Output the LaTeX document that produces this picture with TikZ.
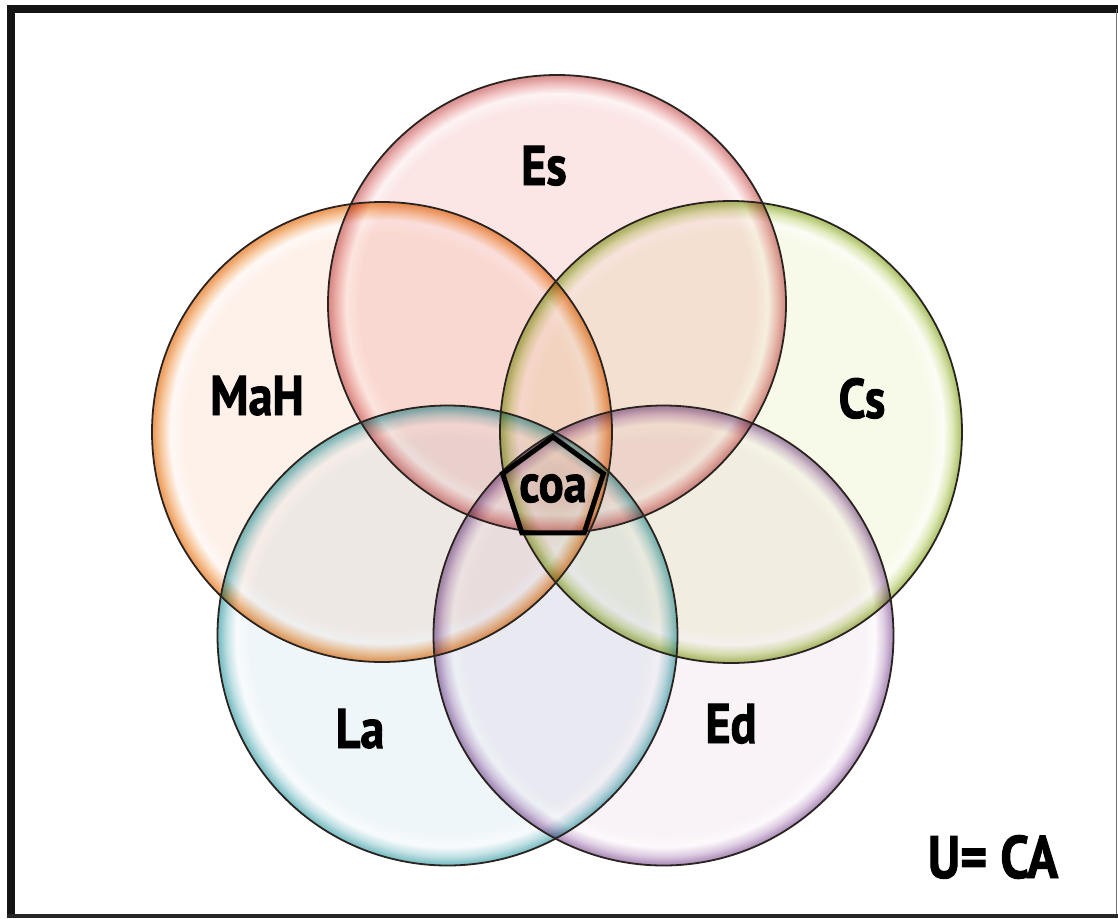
\documentclass[tikz,border=0pt]{standalone}
\usepackage{fontspec}
\newfontfamily\labelfont{PT Sans}[FakeStretch=0.86, FakeBold=1.6]
\usetikzlibrary{shapes.geometric}

% bubble colours: pale inside, tinted band, saturated rim
\definecolor{EsIn}{HTML}{FBE5E5}\definecolor{EsMid}{HTML}{F1C0C0}\definecolor{EsRim}{HTML}{DA9494}
\definecolor{MaHIn}{HTML}{FEF1EA}\definecolor{MaHMid}{HTML}{F8CBA4}\definecolor{MaHRim}{HTML}{EDA062}
\definecolor{CsIn}{HTML}{F7FAE9}\definecolor{CsMid}{HTML}{DDE8B6}\definecolor{CsRim}{HTML}{B2C672}
\definecolor{LaIn}{HTML}{EFF6F9}\definecolor{LaMid}{HTML}{C2E1E5}\definecolor{LaRim}{HTML}{80C1C7}
\definecolor{EdIn}{HTML}{F9F2F7}\definecolor{EdMid}{HTML}{DDCAE2}\definecolor{EdRim}{HTML}{B094BD}
\definecolor{rimline}{HTML}{2A231F}

\newcommand\bubbleshading[1]{%
  \pgfdeclareradialshading{#1Bubble}{\pgfpoint{0bp}{0bp}}{%
    color(0bp)=(#1In); color(21.6bp)=(#1In); color(23.0bp)=(#1In!45!white);
    color(24.0bp)=(#1Mid); color(24.8bp)=(#1Rim); color(25bp)=(#1Rim); color(50bp)=(#1Rim)}}
\bubbleshading{Es}\bubbleshading{MaH}\bubbleshading{Cs}\bubbleshading{La}\bubbleshading{Ed}

\tikzset{
  rimstroke/.style={draw=rimline, line width=1.8pt},
  lbl/.style={font=\labelfont\bfseries\fontsize{56}{60}\selectfont, inner sep=0pt, anchor=base, text=black},
}

\begin{document}
\begin{tikzpicture}[x=1pt, y=-1pt]
  \useasboundingbox (0,0) rectangle (1118,918);
  \fill[white] (0,0) rectangle (1118,918);

  % outer frame: heavy top and left, light right and bottom
  \draw[line width=8pt, black!92] (11,918) -- (11,9) -- (1118,9);
  \draw[line width=1.5pt, black!55] (1116.5,9) -- (1116.5,918);
  \draw[line width=4pt, black!85] (7,916) -- (1118,916);

  % translucent bubbles, colours multiplied where they overlap
  \begin{scope}[blend group=multiply]
    \path[shading=EsBubble]  (557,304) circle[radius=229];
    \path[shading=MaHBubble] (382,432) circle[radius=230];
    \path[shading=CsBubble]  (731,432) circle[radius=231];
    \path[shading=LaBubble]  (447.5,635.5) circle[radius=230];
    \path[shading=EdBubble]  (663.5,635.5) circle[radius=230];
  \end{scope}

  % bubble outlines
  \path[rimstroke] (557,304) circle[radius=229];
  \path[rimstroke] (382,432) circle[radius=230];
  \path[rimstroke] (731,432) circle[radius=231];
  \path[rimstroke] (447.5,635.5) circle[radius=230];
  \path[rimstroke] (663.5,635.5) circle[radius=230];

  % common part of all five sets
  \node[regular polygon, regular polygon sides=5, minimum size=106pt,
        inner sep=0pt, draw=black, line width=5pt] (core) at (553,490) {};

  % set labels
  \node[lbl] (es)  at (544,185) {Es};
  \node[lbl] (mah) at (257,415) {MaH};
  \node[lbl] (cs)  at (862,418) {Cs};
  \node[lbl] (la)  at (360,748) {La};
  \node[lbl] (ed)  at (731,743) {Ed};
  \node[lbl, font=\labelfont\bfseries\fontsize{54}{58}\selectfont] (coa) at (553,502) {coa};
  \node[lbl, font=\labelfont\bfseries\fontsize{60}{64}\selectfont] (univ) at (993,878) {U= CA};
\end{tikzpicture}
\end{document}
